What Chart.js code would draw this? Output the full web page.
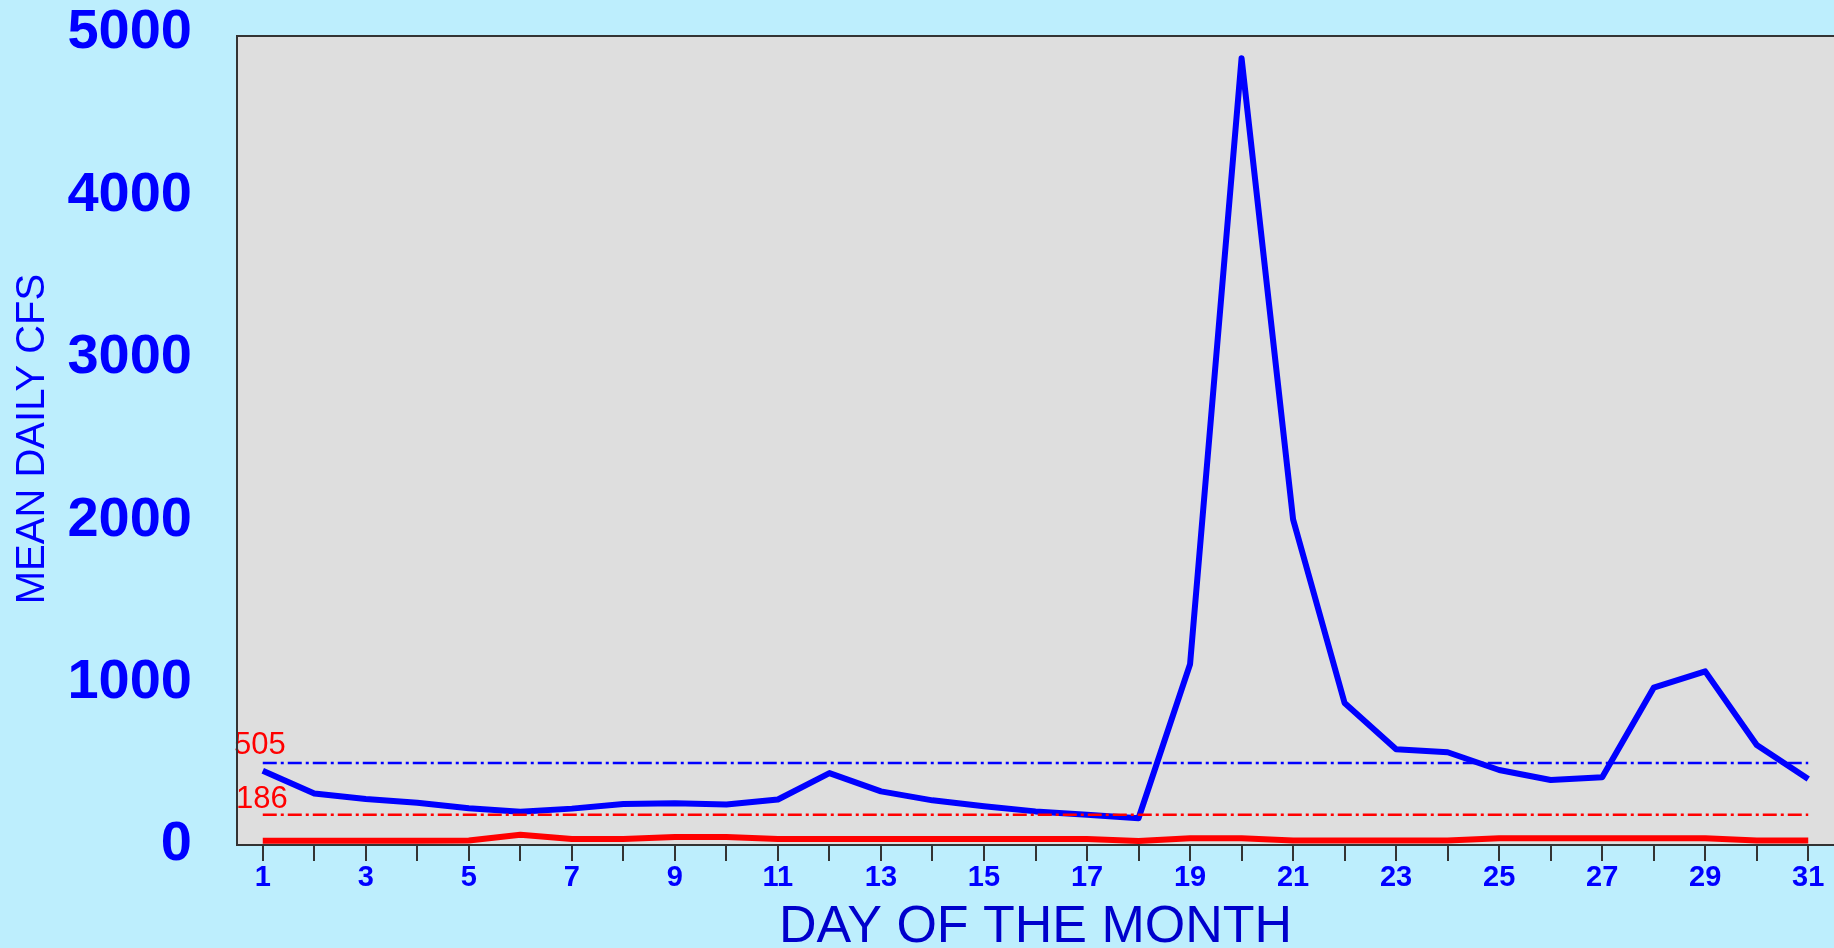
<!DOCTYPE html>
<html lang="en">
<head>
  <meta charset="UTF-8">
  <title>Mean daily CFS</title>
  <script src="https://cdn.jsdelivr.net/npm/chart.js"></script>
  <style>
    html, body { margin: 0; padding: 0; background: #bdeefd; }
    #grafico { display: block; }
  </style>
</head>
<body>
  <canvas id="grafico" width="1834" height="948"></canvas>

<script>
  // dados
  const dias = [1, 2, 3, 4, 5, 6, 7, 8, 9, 10, 11, 12, 13, 14, 15, 16, 17, 18, 19, 20, 21, 22, 23, 24, 25, 26, 27, 28, 29, 30, 31];
  const diasComRotulo = [1, 3, 5, 7, 9, 11, 13, 15, 17, 19, 21, 23, 25, 27, 29, 31];
  const vazaoMedia = [457, 317, 283, 260, 226, 205, 224, 252, 257, 250, 280, 443, 330, 275, 238, 207, 186, 165, 1113, 4845,
                      2005, 874, 589, 571, 462, 400, 417, 969, 1069, 616, 406];
  const vazaoBaixa = [26, 26, 26, 26, 28, 63, 37, 37, 50, 50, 37, 37, 37, 37, 37, 37, 37, 25, 42, 42,
                      27, 27, 27, 27, 42, 42, 42, 42, 42, 27, 27];
  const linhaMedia = 505;
  const linhaMediana = 186;
  const ticksY = [0, 1000, 2000, 3000, 4000, 5000];

  const fonte = "'Liberation Sans', Arial, sans-serif";
  const azul = '#0000ff';
  const vermelho = '#ff0000';

  function pontos(valores) {
    return dias.map(function (d, i) { return { x: d, y: valores[i] }; });
  }

  function linhaHorizontal(valor) {
    return [{ x: dias[0], y: valor }, { x: dias[dias.length - 1], y: valor }];
  }

  // fundo cinza e moldura da area do grafico
  const moldura = {
    id: 'moldura',
    beforeDraw(chart) {
      const a = chart.chartArea;
      const ctx = chart.ctx;
      ctx.save();
      ctx.fillStyle = '#dedede';
      ctx.fillRect(a.left, a.top + 3, a.right - a.left + 10, a.bottom - a.top - 3);
      ctx.restore();
    },
    afterDraw(chart) {
      const a = chart.chartArea;
      const ctx = chart.ctx;
      ctx.save();
      ctx.strokeStyle = '#333333';
      ctx.lineWidth = 2;
      ctx.beginPath();
      ctx.moveTo(a.right + 10, a.top + 3);
      ctx.lineTo(a.left, a.top + 3);
      ctx.lineTo(a.left, a.bottom);
      ctx.lineTo(a.right + 10, a.bottom);
      ctx.stroke();
      ctx.restore();
    }
  };

  // rotulos 505 e 186
  const rotulos = {
    id: 'rotulos',
    afterDatasetsDraw(chart) {
      const y = chart.scales.y;
      const ctx = chart.ctx;
      ctx.save();
      ctx.font = '31px ' + fonte;
      ctx.fillStyle = vermelho;
      ctx.textAlign = 'left';
      ctx.textBaseline = 'alphabetic';
      ctx.fillText(String(linhaMedia), chart.chartArea.left - 3, y.getPixelForValue(linhaMedia) - 9);
      ctx.fillText(String(linhaMediana), chart.chartArea.left - 1, y.getPixelForValue(linhaMediana) - 7);
      ctx.restore();
    }
  };

  const ctx = document.getElementById('grafico').getContext('2d');
  new Chart(ctx, {
    type: 'line',
    data: {
      datasets: [
        {
          label: 'Media',
          data: linhaHorizontal(linhaMedia),
          borderColor: azul,
          borderWidth: 2.5,
          borderDash: [14, 4, 3, 4],
          pointRadius: 0,
          order: 0
        },
        {
          label: 'Mediana',
          data: linhaHorizontal(linhaMediana),
          borderColor: vermelho,
          borderWidth: 2.5,
          borderDash: [14, 4, 3, 4],
          pointRadius: 0,
          order: 0
        },
        {
          label: 'Vazao media diaria',
          data: pontos(vazaoMedia),
          borderColor: azul,
          borderWidth: 6,
          borderJoinStyle: 'round',
          pointRadius: 0,
          tension: 0,
          order: 1
        },
        {
          label: 'Vazao baixa',
          data: pontos(vazaoBaixa),
          borderColor: vermelho,
          borderWidth: 6,
          borderJoinStyle: 'round',
          pointRadius: 0,
          tension: 0,
          order: 2
        }
      ]
    },
    options: {
      responsive: false,
      animation: false,
      layout: { padding: { top: 33, left: 0, right: 0, bottom: 0 } },
      plugins: {
        legend: { display: false },
        tooltip: { enabled: false }
      },
      scales: {
        x: {
          type: 'linear',
          min: 0.5,
          max: 31.5,
          afterBuildTicks(scale) {
            scale.ticks = dias.map(function (d) { return { value: d }; });
          },
          afterFit(scale) {
            scale.height = 103;
            scale.paddingLeft = 0;
            scale.paddingRight = 0;
          },
          grid: {
            drawOnChartArea: false,
            drawTicks: true,
            tickLength: 16,
            color: '#333333',
            lineWidth: 2
          },
          border: { display: false },
          ticks: {
            autoSkip: false,
            maxRotation: 0,
            padding: 0,
            color: azul,
            font: { family: fonte, size: 29, weight: 'bold' },
            callback(valor) {
              return diasComRotulo.includes(valor) ? String(valor) : '';
            }
          },
          title: {
            display: true,
            text: 'DAY OF THE MONTH',
            color: '#0000cc',
            font: { family: fonte, size: 52, lineHeight: 0.8 },
            padding: { top: 0, bottom: 0 }
          }
        },
        y: {
          min: 0,
          max: 5000,
          afterBuildTicks(scale) {
            scale.ticks = ticksY.map(function (v) { return { value: v }; });
          },
          afterFit(scale) {
            scale.width = 237;
            scale.paddingTop = 0;
            scale.paddingBottom = 0;
          },
          grid: { display: false, drawTicks: false },
          border: { display: false },
          ticks: {
            padding: 45,
            color: azul,
            font: { family: fonte, size: 56, weight: 'bold' },
            callback(valor) { return String(valor); }
          },
          title: {
            display: true,
            text: 'MEAN DAILY CFS',
            color: azul,
            font: { family: fonte, size: 40 },
            padding: { top: 9, bottom: 0 }
          }
        }
      }
    },
    plugins: [moldura, rotulos]
  });
</script>
</body>
</html>
